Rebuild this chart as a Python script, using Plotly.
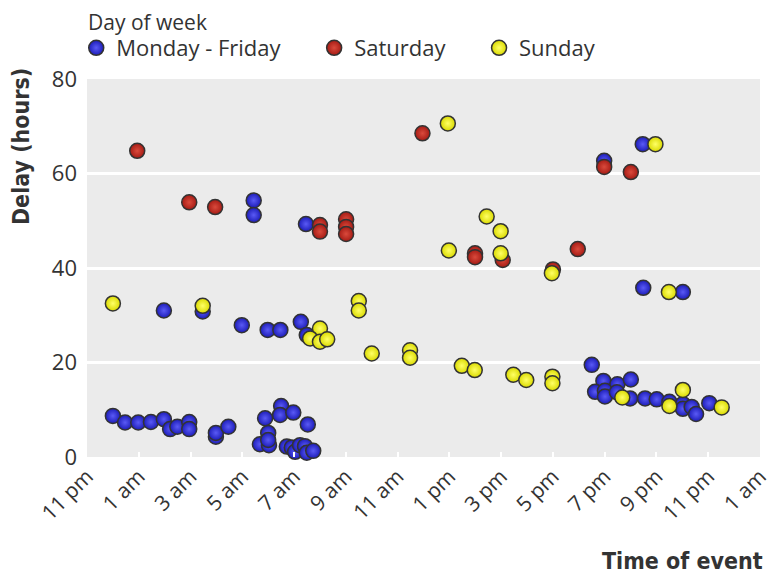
import plotly.graph_objects as go

# Time of event in hours (0 = midnight, -1 = 11 pm previous evening), delay in hours
weekday_time = [5.44, 5.44, 7.46, 1.97, 3.47, 4.98, 5.98, 6.47, 7.26, 7.49,
                0.0, 0.47, 0.98, 1.47, 1.97, 2.21, 2.49, 2.95, 2.95, 3.98,
                3.98, 4.46, 5.88, 6.0, 5.68, 6.03, 6.0, 6.50, 6.46, 6.97,
                7.53, 6.72, 6.91, 7.04, 7.23, 7.42, 7.49, 7.74,
                18.98, 20.47, 20.49, 22.02, 18.50, 18.95, 19.49, 20.01, 18.63, 19.01,
                19.01, 19.47, 19.98, 20.56, 21.01, 21.50, 22.02, 22.02, 22.36, 22.53, 23.04]
weekday_delay = [54.3, 51.2, 49.3, 31.0, 30.8, 27.9, 26.9, 26.9, 28.6, 25.8,
                 8.7, 7.3, 7.3, 7.4, 8.0, 5.9, 6.4, 7.4, 5.9, 4.3,
                 5.1, 6.4, 8.2, 5.1, 2.7, 2.5, 3.6, 10.8, 8.9, 9.4,
                 6.9, 2.2, 2.0, 1.1, 2.5, 2.3, 0.9, 1.3,
                 62.7, 66.2, 35.8, 34.9, 19.5, 16.1, 15.4, 16.4, 13.8, 14.0,
                 12.8, 13.7, 12.4, 12.4, 12.2, 11.7, 11.2, 10.2, 10.6, 9.1, 11.4]

saturday_time = [0.94, 2.95, 3.95, 8.0, 8.0, 9.01, 9.01, 9.01, 11.96, 18.98,
                 20.01, 13.99, 13.99, 15.06, 17.0, 17.96]
saturday_delay = [64.8, 53.9, 52.9, 49.1, 47.7, 50.3, 48.7, 47.2, 68.5, 61.4,
                  60.3, 43.1, 42.3, 41.7, 39.7, 44.0]

sunday_time = [0.0, 3.47, 8.0, 7.62, 8.0, 8.28, 9.50, 9.50, 10.0, 12.94,
               20.96, 14.44, 14.98, 12.98, 14.98, 16.96, 21.48, 11.48, 11.48, 13.48,
               13.98, 15.47, 15.97, 16.98, 16.98, 22.02, 19.68, 21.50, 23.52]
sunday_delay = [32.5, 32.0, 27.2, 25.1, 24.4, 24.9, 33.0, 31.0, 21.9, 70.6,
                66.2, 50.9, 47.8, 43.7, 43.1, 38.9, 34.9, 22.6, 21.0, 19.3,
                18.4, 17.4, 16.3, 17.0, 15.6, 14.2, 12.6, 10.8, 10.5]

tick_vals = [-1, 1, 3, 5, 7, 9, 11, 13, 15, 17, 19, 21, 23, 25]
tick_text = ["11 pm", "1 am", "3 am", "5 am", "7 am", "9 am", "11 am",
             "1 pm", "3 pm", "5 pm", "7 pm", "9 pm", "11 pm", "1 am"]

FONT = "Open Sans, Noto Sans, DejaVu Sans, sans-serif"
BOLD = "DejaVu Sans Condensed, Liberation Sans Narrow, sans-serif"
TXT = "#333333"
PAD = "\u00a0" * 5

series = [
    ("Monday - Friday", weekday_time, weekday_delay, "#1C1CB8", "#5A5AF5"),
    ("Saturday", saturday_time, saturday_delay, "#A51B14", "#DA4A3C"),
    ("Sunday", sunday_time, sunday_delay, "#DADA00", "#FFFF66"),
]

fig = go.Figure()
for name, xs, ys, col, hi in series:
    fig.add_trace(go.Scatter(
        x=xs, y=ys, mode="markers", name=name + PAD, cliponaxis=False,
        marker=dict(size=15, color=col,
                    gradient=dict(type="radial", color=hi),
                    line=dict(color="#333333", width=1.5)),
    ))

fig.update_layout(
    width=768, height=569,
    margin=dict(l=79, r=16, t=71, b=120, autoexpand=False),
    paper_bgcolor="white", plot_bgcolor="#EBEBEB",
    font=dict(family=FONT, size=22, color=TXT),
    showlegend=True,
    legend=dict(orientation="h", x=-0.016, xanchor="left", y=1.082, yanchor="middle",
                font=dict(family=FONT, size=22, color=TXT),
                bgcolor="rgba(0,0,0,0)", itemclick=False, itemdoubleclick=False),
    xaxis=dict(range=[-1, 25], tickmode="array", tickvals=tick_vals, ticktext=tick_text,
               tickangle=-45, showgrid=False, zeroline=False, showline=False,
               ticks="inside", ticklen=5, tickwidth=2, tickcolor="white",
               tickfont=dict(family=FONT, size=21, color=TXT), ticklabelstandoff=2),
    yaxis=dict(range=[0, 80], tickvals=[0, 20, 40, 60, 80], showgrid=True,
               gridcolor="white", gridwidth=2.5, zeroline=False, showline=False,
               ticks="", tickfont=dict(family=FONT, size=22, color=TXT),
               ticklabelstandoff=9),
    annotations=[
        dict(text="Day of week", xref="paper", yref="paper", x=0, y=1.150,
             xanchor="left", yanchor="middle", showarrow=False, borderpad=0,
             font=dict(family=FONT, size=21, color=TXT)),
        dict(text="<b>Delay (hours)</b>", xref="paper", yref="paper", x=-0.098, y=0.82,
             xanchor="center", yanchor="middle", textangle=-90, showarrow=False,
             borderpad=0, font=dict(family=BOLD, size=23, color=TXT)),
        dict(text="<b>Time of event</b>", xref="paper", yref="paper", x=1.007, y=-0.275,
             xanchor="right", yanchor="middle", showarrow=False,
             font=dict(family=BOLD, size=23, color=TXT)),
    ],
)

fig.write_html("out.html")
